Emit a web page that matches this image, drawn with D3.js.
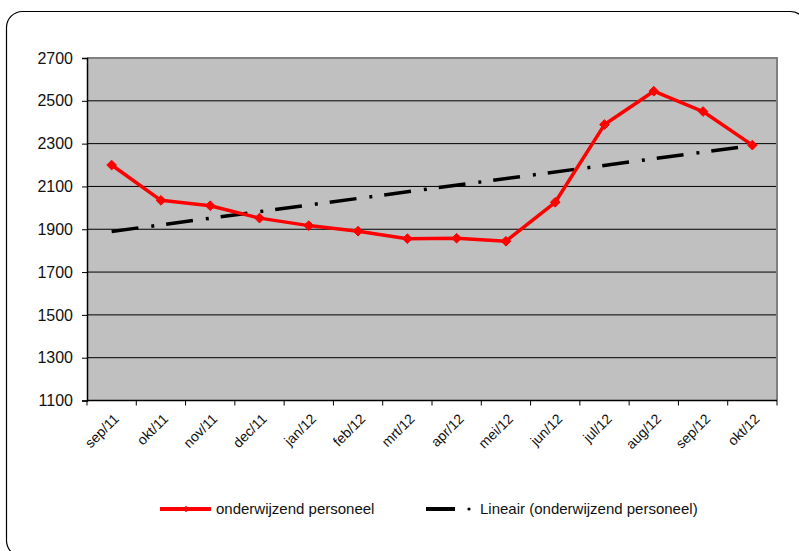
<!DOCTYPE html>
<html>
<head>
<meta charset="utf-8">
<script src="https://cdn.jsdelivr.net/npm/d3@7"></script>
<style>
  html, body { margin: 0; padding: 0; background: #fff; }
  svg { display: block; font-family: Arial, "Liberation Sans", sans-serif; }
</style>
</head>
<body>
<svg id="chart" width="799" height="551"></svg>
<script>
const categories = ["sep/11","okt/11","nov/11","dec/11","jan/12","feb/12","mrt/12","apr/12","mei/12","jun/12","jul/12","aug/12","sep/12","okt/12"];
const values = [2200, 2035, 2010, 1952, 1917, 1891, 1856, 1858, 1844, 2026, 2389, 2545, 2450, 2293];
const yTicks = [1100, 1300, 1500, 1700, 1900, 2100, 2300, 2500, 2700];
const seriesName = "onderwijzend personeel";
const trendName = "Lineair (onderwijzend personeel)";

const svg = d3.select("#chart");
const L = 87, R = 777, T = 58, B = 400.5;

// outer frame
svg.append("rect")
  .attr("x", 6.5).attr("y", 11.5).attr("width", 800).attr("height", 545)
  .attr("rx", 16).attr("ry", 16)
  .attr("fill", "#fff").attr("stroke", "#000").attr("stroke-width", 1.2);

const x = d3.scaleBand().domain(categories).range([L, R]).padding(0);
const y = d3.scaleLinear().domain([1100, 2700]).range([B, T]);
const cx = d => x(d) + x.bandwidth() / 2;

// plot background
svg.append("rect").attr("x", L).attr("y", T).attr("width", R - L).attr("height", B - T)
  .attr("fill", "#c0c0c0");

// gridlines
svg.append("g").selectAll("line").data(yTicks.filter(v => v > 1100)).join("line")
  .attr("x1", L).attr("x2", R).attr("y1", d => y(d)).attr("y2", d => y(d))
  .attr("stroke", "#000").attr("stroke-width", 1);

// plot border top/right gray
svg.append("path").attr("d", `M${L},${T}H${R}V${B}`)
  .attr("fill", "none").attr("stroke", "#808080").attr("stroke-width", 2);

// y axis
const yAxis = d3.axisLeft(y).tickValues(yTicks).tickSize(5).tickPadding(9).tickFormat(d3.format("d"));
const gy = svg.append("g").attr("transform", `translate(${L},0)`).call(yAxis);
gy.select(".domain").attr("stroke", "#000").attr("stroke-width", 1.5);
gy.selectAll("text").attr("font-size", 16).attr("fill", "#111").attr("font-family", "Arial, 'Liberation Sans', sans-serif");

// x axis with ticks at band boundaries
const gx = svg.append("g").attr("transform", `translate(0,${B})`);
gx.append("line").attr("x1", L).attr("x2", R).attr("stroke", "#000").attr("stroke-width", 1.5);
const bounds = categories.map(c => x(c)).concat([R]);
gx.selectAll("line.tick").data(bounds).join("line").attr("class", "tick")
  .attr("x1", d => d).attr("x2", d => d).attr("y1", 0).attr("y2", 5)
  .attr("stroke", "#000").attr("stroke-width", 1);
gx.selectAll("text").data(categories).join("text")
  .attr("transform", d => `translate(${cx(d) + 1},${12}) rotate(-45)`)
  .attr("text-anchor", "end").attr("dy", "0.72em")
  .attr("font-size", 14).attr("fill", "#111")
  .text(d => d);

// trend line (least squares of the series)
const n = values.length;
const xs = d3.range(n);
const mx = d3.mean(xs), my = d3.mean(values);
const slope = d3.sum(xs, i => (i - mx) * (values[i] - my)) / d3.sum(xs, i => (i - mx) ** 2);
const icpt = my - slope * mx;
const trend = [categories[0], categories[n - 1]].map((c, k) => ({c, v: icpt + slope * (k === 0 ? 0 : n - 1)}));
svg.append("path")
  .attr("d", d3.line().x(d => cx(d.c)).y(d => y(d.v))(trend))
  .attr("fill", "none").attr("stroke", "#000").attr("stroke-width", 3.5)
  .attr("stroke-dasharray", "27,13,3,12");

// series line
const data = categories.map((c, i) => ({c, v: values[i]}));
svg.append("path")
  .attr("d", d3.line().x(d => cx(d.c)).y(d => y(d.v))(data))
  .attr("fill", "none").attr("stroke", "#ff0000").attr("stroke-width", 3.5)
  .attr("stroke-linejoin", "round");
svg.append("g").selectAll("path").data(data).join("path")
  .attr("transform", d => `translate(${cx(d.c)},${y(d.v)})`)
  .attr("d", d3.symbol(d3.symbolDiamond2, 60)())
  .attr("fill", "#ff0000").attr("stroke", "#ff0000").attr("stroke-width", 1);

// legend
const ly = 509;
const lg = svg.append("g");
lg.append("line").attr("x1", 160).attr("x2", 211).attr("y1", ly).attr("y2", ly)
  .attr("stroke", "#ff0000").attr("stroke-width", 4);
lg.append("path").attr("transform", `translate(186,${ly})`)
  .attr("d", d3.symbol(d3.symbolDiamond2, 25)()).attr("fill", "#ff0000");
lg.append("text").attr("x", 216).attr("y", ly).attr("dy", "0.35em")
  .attr("font-size", 15).attr("fill", "#111").text(seriesName);
lg.append("line").attr("x1", 426).attr("x2", 455).attr("y1", ly).attr("y2", ly)
  .attr("stroke", "#000").attr("stroke-width", 4);
lg.append("circle").attr("cx", 469).attr("cy", ly).attr("r", 1.6).attr("fill", "#000");
lg.append("text").attr("x", 480).attr("y", ly).attr("dy", "0.35em")
  .attr("font-size", 15).attr("fill", "#111").text(trendName);
</script>
</body>
</html>
